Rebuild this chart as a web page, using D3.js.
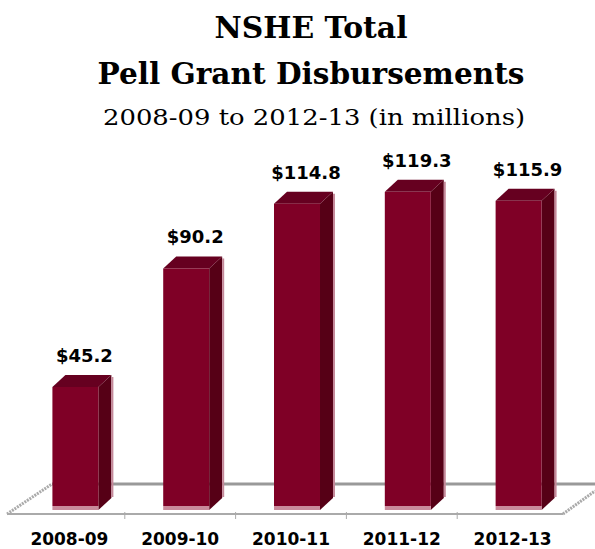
<!DOCTYPE html>
<html><head><meta charset="utf-8">
<script src="https://cdn.jsdelivr.net/npm/d3@7"></script>
<style>body{margin:0;background:#fff}svg{display:block}</style>
</head><body>
<script>
const categories = ["2008-09","2009-10","2010-11","2011-12","2012-13"];
const values = [45.2, 90.2, 114.8, 119.3, 115.9];
const valueLabels = ["$45.2","$90.2","$114.8","$119.3","$115.9"];

const W = 595, H = 549;
const svg = d3.select("body").append("svg").attr("width", W).attr("height", H);

const x = d3.scaleBand().domain(categories).range([20, 574]).paddingInner(0.585).paddingOuter(0.2925);
const y = d3.scaleLinear().domain([0, 120]).range([506, 190]);
const dx = 13, dy = -12;

// titles
svg.append("text").attr("x", 311).attr("y", 38).attr("text-anchor", "middle")
  .attr("font-family", "DejaVu Serif").attr("font-weight", "bold").attr("font-size", 30)
  .attr("textLength", 193).attr("lengthAdjust", "spacingAndGlyphs").text("NSHE Total");
svg.append("text").attr("x", 311).attr("y", 84).attr("text-anchor", "middle")
  .attr("font-family", "DejaVu Serif").attr("font-weight", "bold").attr("font-size", 30)
  .attr("textLength", 427).attr("lengthAdjust", "spacingAndGlyphs").text("Pell Grant Disbursements");
svg.append("text").attr("x", 314).attr("y", 125).attr("text-anchor", "middle")
  .attr("font-family", "DejaVu Serif").attr("font-size", 23)
  .attr("textLength", 422).attr("lengthAdjust", "spacingAndGlyphs").text("2008-09 to 2012-13 (in millions)");

// floor (behind bars)
const g = svg.append("g");
g.append("line").attr("x1", 52).attr("y1", 484).attr("x2", 595).attr("y2", 484)
  .attr("stroke", "#999").attr("stroke-width", 3);
g.append("line").attr("x1", 7).attr("y1", 514).attr("x2", 52).attr("y2", 484)
  .attr("stroke", "#aaa").attr("stroke-width", 3).attr("stroke-dasharray", "2,1");
g.append("line").attr("x1", 563).attr("y1", 514).attr("x2", 595).attr("y2", 491)
  .attr("stroke", "#aaa").attr("stroke-width", 3).attr("stroke-dasharray", "2,1");

// bars
const bars = svg.append("g").selectAll("g").data(categories).join("g");
bars.each(function(c, i) {
  const s = d3.select(this);
  const x0 = x(c), x1 = x(c) + x.bandwidth();
  const yt = y(values[i]), yb = y(0);
  // side
  s.append("polygon").attr("points", [[x1, yt], [x1+dx, yt+dy], [x1+dx, yb+dy+4], [x1, yb+4]].join(" "))
    .attr("fill", "#560016");
  s.append("line").attr("x1", x1+dx+1).attr("y1", yt+dy+2).attr("x2", x1+dx+1).attr("y2", yb+dy+3)
    .attr("stroke", "#c5899a").attr("stroke-width", 2);
  // top
  s.append("polygon").attr("points", [[x0, yt], [x0+dx, yt+dy], [x1+dx, yt+dy], [x1, yt]].join(" "))
    .attr("fill", "#660020");
  // front
  s.append("rect").attr("x", x0).attr("y", yt).attr("width", x.bandwidth()).attr("height", yb - yt)
    .attr("fill", "#7f0026");
  s.append("rect").attr("x", x0).attr("y", yb).attr("width", x.bandwidth()).attr("height", 4)
    .attr("fill", "#c98a9b");
  // value label
  s.append("text").attr("x", x0 + x.bandwidth()/2 + 9).attr("y", yt + dy - 13)
    .attr("text-anchor", "middle").attr("font-family", "DejaVu Sans").attr("font-weight", "bold")
    .attr("font-size", 18).text(valueLabels[i]);
});

// front floor line
const front = svg.append("g");
front.append("line").attr("x1", 7).attr("y1", 514).attr("x2", 563).attr("y2", 514)
  .attr("stroke", "#aaa").attr("stroke-width", 2);
categories.slice(1).forEach(c => {
  const tx = x(c) - (x.step() - x.bandwidth())/2 - 6;
  front.append("line").attr("x1", tx).attr("y1", 512).attr("x2", tx).attr("y2", 519)
    .attr("stroke", "#aaa").attr("stroke-width", 1);
});

// category labels
svg.append("g").selectAll("text").data(categories).join("text")
  .attr("x", d => x(d) + x.bandwidth()/2 - 6).attr("y", 545)
  .attr("text-anchor", "middle").attr("font-family", "DejaVu Sans").attr("font-weight", "bold")
  .attr("font-size", 17).attr("textLength", 78).attr("lengthAdjust", "spacingAndGlyphs").text(d => d);
</script>
</body></html>
